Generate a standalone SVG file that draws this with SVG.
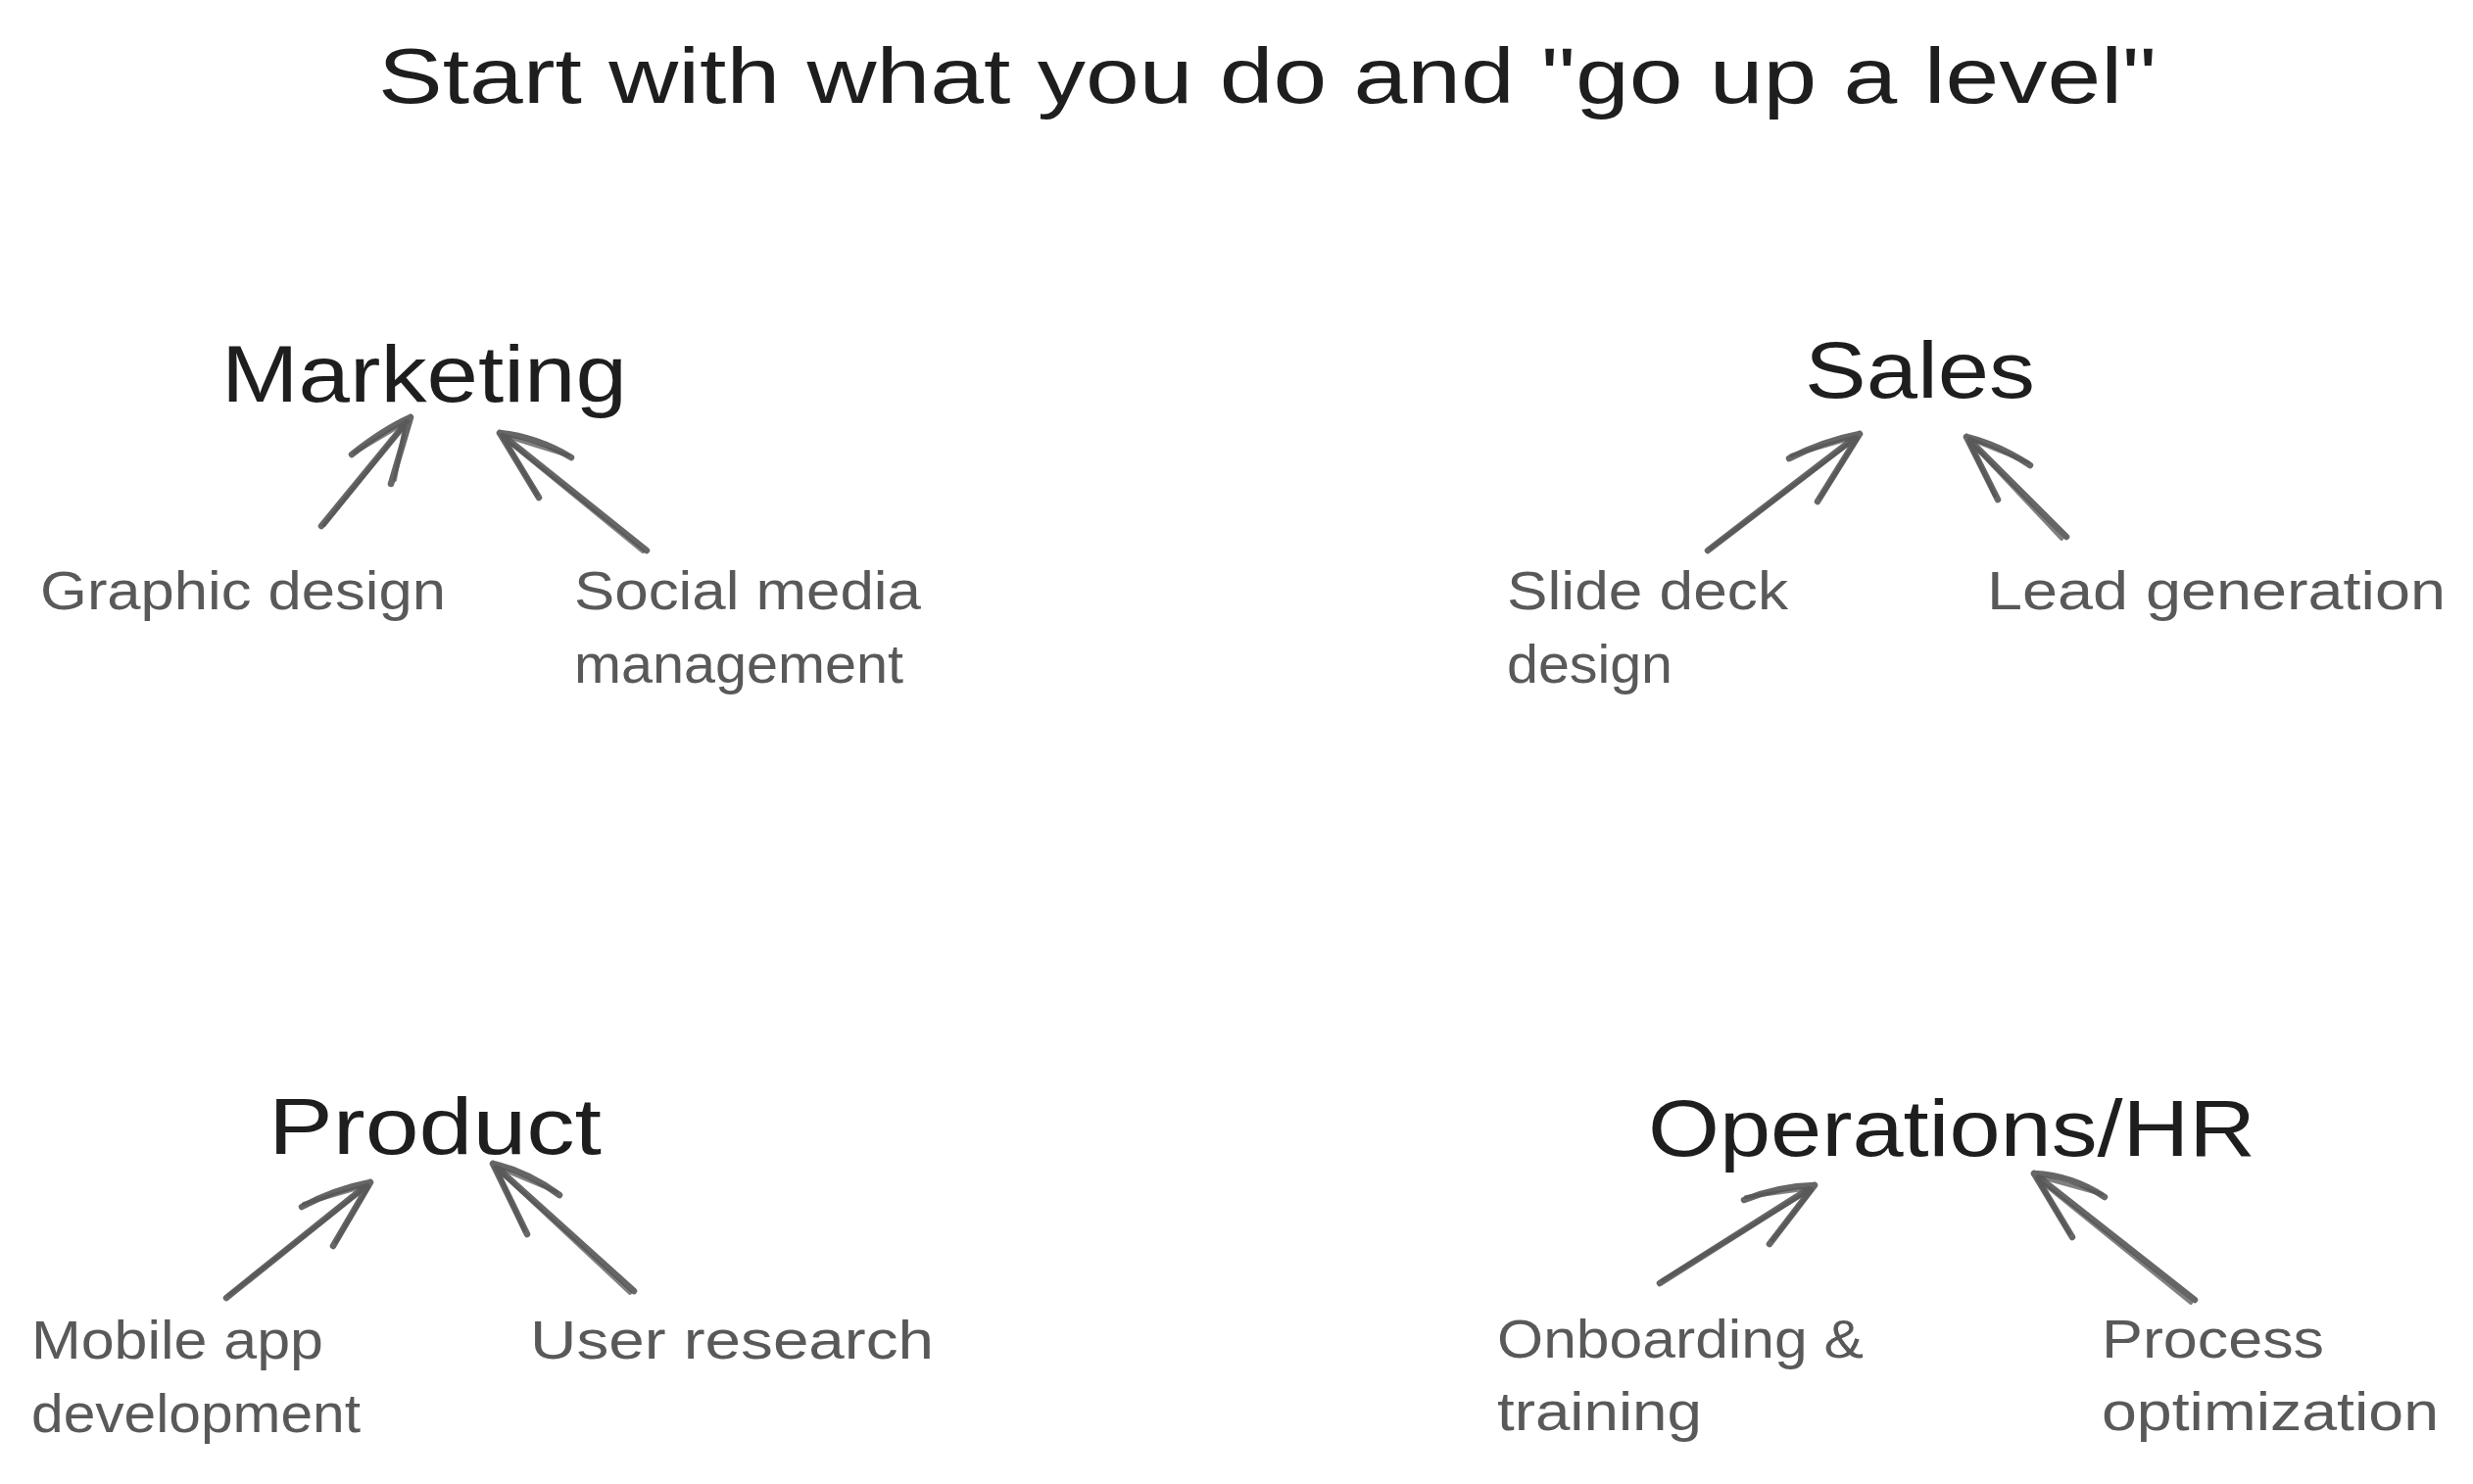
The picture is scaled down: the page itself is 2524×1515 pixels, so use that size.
<svg xmlns="http://www.w3.org/2000/svg" width="2524" height="1515" viewBox="0 0 2524 1515">
<style>
.bg{fill:#ffffff}
.title{font-family:"Liberation Sans","DejaVu Sans",sans-serif;font-size:80px;fill:#1e1e1e}
.head{font-family:"Liberation Sans","DejaVu Sans",sans-serif;font-size:82px;fill:#1e1e1e}
.sub{font-family:"Liberation Sans","DejaVu Sans",sans-serif;font-size:56px;fill:#595959}
.arrow{fill:none;stroke:#555555;stroke-width:6.5;stroke-linecap:round;stroke-linejoin:round;opacity:0.9}
.arrow2{fill:none;stroke:#555555;stroke-width:4;stroke-linecap:round;stroke-linejoin:round;opacity:0.75}
</style>
<rect class="bg" x="0" y="0" width="2524" height="1515"/>

<g id="title">
<text class="title" x="386" y="105" textLength="1815" lengthAdjust="spacingAndGlyphs">Start with what you do and "go up a level"</text>
</g>

<g id="node-marketing"><text class="head" x="226" y="410" textLength="414" lengthAdjust="spacingAndGlyphs">Marketing</text></g>
<g id="node-sales"><text class="head" x="1842" y="406" textLength="235" lengthAdjust="spacingAndGlyphs">Sales</text></g>
<g id="node-product"><text class="head" x="274" y="1178" textLength="340" lengthAdjust="spacingAndGlyphs">Product</text></g>
<g id="node-operations"><text class="head" x="1682" y="1180" textLength="620" lengthAdjust="spacingAndGlyphs">Operations/HR</text></g>

<g id="node-graphic-design"><text class="sub" x="41" y="622" textLength="414" lengthAdjust="spacingAndGlyphs">Graphic design</text></g>
<g id="node-social-media"><text class="sub" x="586" y="622" textLength="354" lengthAdjust="spacingAndGlyphs">Social media</text><text class="sub" x="586" y="697" textLength="336" lengthAdjust="spacingAndGlyphs">management</text></g>
<g id="node-slide-deck"><text class="sub" x="1538" y="622" textLength="287" lengthAdjust="spacingAndGlyphs">Slide deck</text><text class="sub" x="1538" y="697" textLength="169" lengthAdjust="spacingAndGlyphs">design</text></g>
<g id="node-lead-generation"><text class="sub" x="2028" y="622" textLength="468" lengthAdjust="spacingAndGlyphs">Lead generation</text></g>
<g id="node-mobile-app"><text class="sub" x="32" y="1387" textLength="298" lengthAdjust="spacingAndGlyphs">Mobile app</text><text class="sub" x="32" y="1462" textLength="336" lengthAdjust="spacingAndGlyphs">development</text></g>
<g id="node-user-research"><text class="sub" x="541" y="1387" textLength="412" lengthAdjust="spacingAndGlyphs">User research</text></g>
<g id="node-onboarding"><text class="sub" x="1528" y="1386" textLength="374" lengthAdjust="spacingAndGlyphs">Onboarding &amp;</text><text class="sub" x="1528" y="1460" textLength="209" lengthAdjust="spacingAndGlyphs">training</text></g>
<g id="node-process"><text class="sub" x="2145" y="1386" textLength="227" lengthAdjust="spacingAndGlyphs">Process</text><text class="sub" x="2145" y="1460" textLength="344" lengthAdjust="spacingAndGlyphs">optimization</text></g>

<g id="connectors">
<path class="arrow" d="M328 537 L419 426 M359 464 Q392 438 419 426 M399 494 L419 426"/>
<path class="arrow2" d="M331 536 L416 430 M362 462 L416 430 M403 490 L414 430"/>
<path class="arrow" d="M660 562 L510 442 M583 467 Q548 446 510 442 M550 508 L510 442"/>
<path class="arrow2" d="M656 563 L513 446 M580 465 L512 444 M548 505 L514 448"/>

<path class="arrow" d="M1743 562 L1898 443 M1826 468 Q1862 450 1898 443 M1855 512 L1898 443"/>
<path class="arrow2" d="M1746 560 L1895 447 M1828 465 L1894 446 M1858 508 L1896 447"/>
<path class="arrow" d="M2109 548 L2007 446 M2072 475 Q2040 454 2007 446 M2039 510 L2007 446"/>
<path class="arrow2" d="M2104 550 L2010 450 M2070 472 L2010 448 M2036 506 L2010 452"/>

<path class="arrow" d="M231 1325 L378 1207 M308 1232 Q342 1214 378 1207 M340 1272 L378 1207"/>
<path class="arrow2" d="M234 1322 L375 1211 M310 1229 L375 1210 M343 1268 L376 1212"/>
<path class="arrow" d="M647 1318 L503 1188 M571 1220 Q538 1196 503 1188 M538 1260 L503 1188"/>
<path class="arrow2" d="M643 1320 L506 1192 M568 1217 L506 1191 M535 1256 L507 1194"/>

<path class="arrow" d="M1694 1310 L1852 1210 M1780 1225 Q1815 1211 1852 1210 M1806 1270 L1852 1210"/>
<path class="arrow2" d="M1697 1307 L1849 1214 M1782 1222 L1848 1213 M1809 1266 L1849 1215"/>
<path class="arrow" d="M2240 1327 L2076 1198 M2148 1222 Q2115 1200 2076 1198 M2115 1263 L2076 1198"/>
<path class="arrow2" d="M2236 1330 L2079 1203 M2145 1219 L2080 1201 M2112 1259 L2080 1204"/>
</g>
</svg>
